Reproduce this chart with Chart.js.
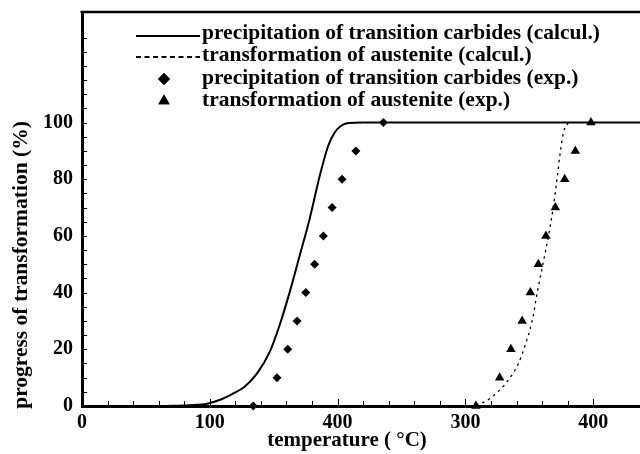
<!DOCTYPE html>
<html>
<head>
<meta charset="utf-8">
<script src="https://cdn.jsdelivr.net/npm/chart.js@4/dist/chart.umd.min.js"></script>
<style>
  html, body { margin: 0; padding: 0; background: #fff; overflow: hidden; }
  canvas { display: block; }
</style>
</head>
<body>
<canvas id="chart" width="646" height="454"></canvas>
<script>
// Calculated kinetics (temperature in °C, progress in %)
const calcCarbideTemps    = [63.6, 84, 97.8, 107.6, 117.4, 127.2, 137, 146.8, 154.6, 162.4, 170.3, 178.1, 185.9, 192.8, 197.7, 202.5, 208.4, 220, 437];
const calcCarbideProgress = [0, 0.3, 0.8, 2.1, 4.2, 6.8, 11.5, 19, 28.5, 40, 53, 66, 81, 92, 96.5, 98.8, 99.8, 100, 100];

const calcAusteniteTemps    = [303.3, 309.2, 317, 326.8, 333.7, 341.5, 346.4, 352.2, 356.2, 360.6, 365, 368.7, 371.6, 374.4, 376.7, 380.6];
const calcAusteniteProgress = [0, 0.5, 2, 5.6, 9.2, 15, 21, 30, 40, 50, 60, 70, 80, 90, 96.5, 100];

// Measured points
const expCarbideTemps    = [134, 152.6, 161, 168.3, 175.1, 182, 188.8, 195.7, 203.5, 214.3, 235.8];
const expCarbideProgress = [0, 10, 20, 30, 40, 50, 60, 70, 80, 90, 100];

const expAusteniteTemps    = [308.2, 326.8, 335.6, 344.4, 350.8, 357.1, 363, 370.4, 377.7, 386, 398.2];
const expAusteniteProgress = [0, 10, 20, 30, 40, 50, 60, 70, 80, 90, 100];

// Axis text
const xTickLabels = ['0', '100', '400', '300', '400'];
const yTickLabels = ['0', '20', '40', '60', '80', '100'];
const xTitle = 'temperature ( \u00B0C)';
const yTitle = 'progress of transformation (%)';

const seriesNames = [
  'precipitation of transition carbides (calcul.)',
  'transformation of austenite (calcul.)',
  'precipitation of transition carbides (exp.)',
  'transformation of austenite (exp.)'
];

const SERIF = '"Liberation Serif", "Times New Roman", serif';

const zip = (xs, ys) => xs.map((x, i) => ({ x: x, y: ys[i] }));

// Inward tick marks, top frame line and both axis titles
const framePlugin = {
  id: 'frame',
  afterDraw(chart) {
    const ctx = chart.ctx;
    const area = chart.chartArea;
    const xs = chart.scales.x;
    const ys = chart.scales.y;
    ctx.save();
    ctx.strokeStyle = '#000';
    ctx.fillStyle = '#000';

    // top frame
    ctx.lineWidth = 2.5;
    ctx.beginPath();
    ctx.moveTo(area.left - 1.5, area.top);
    ctx.lineTo(area.right, area.top);
    ctx.stroke();

    // inward ticks
    ctx.lineWidth = 1;
    xs.ticks.forEach(t => {
      const v = Math.round(t.value);
      if (v % 20 !== 0 || v <= 0) return;
      const px = Math.round(xs.getPixelForValue(v)) + 0.5;
      const len = v % 100 === 0 ? 7 : 5;
      ctx.beginPath();
      ctx.moveTo(px, area.bottom);
      ctx.lineTo(px, area.bottom - len);
      ctx.stroke();
    });
    ys.ticks.forEach(t => {
      const v = Math.round(t.value);
      if (v % 5 !== 0 || v <= 0 || v >= ys.max) return;
      const py = Math.round(ys.getPixelForValue(v)) + 0.5;
      ctx.beginPath();
      ctx.moveTo(area.left, py);
      ctx.lineTo(area.left + 5, py);
      ctx.stroke();
    });

    // axis titles
    ctx.textAlign = 'center';
    ctx.textBaseline = 'middle';
    ctx.font = 'bold 21px ' + SERIF;
    ctx.fillText(xTitle, 347, 441);

    ctx.font = 'bold 21.5px ' + SERIF;
    ctx.translate(21, 265);
    ctx.rotate(-Math.PI / 2);
    ctx.fillText(yTitle, 0, 0);
    ctx.restore();
  }
};

// Legend block inside the plot, styled from the datasets
const legendPlugin = {
  id: 'insideLegend',
  afterDraw(chart) {
    const ctx = chart.ctx;
    const ds = chart.data.datasets;
    const textX = 202;
    const baselines = [39, 61, 84, 106];
    ctx.save();
    ctx.fillStyle = '#000';
    ctx.strokeStyle = '#000';

    ctx.lineWidth = 2;
    ctx.beginPath();
    ctx.moveTo(136, 36);
    ctx.lineTo(200, 36);
    ctx.stroke();

    ctx.lineWidth = 2;
    ctx.setLineDash([5, 3.5]);
    ctx.beginPath();
    ctx.moveTo(136, 57);
    ctx.lineTo(200, 57);
    ctx.stroke();
    ctx.setLineDash([]);

    Chart.helpers.drawPoint(ctx, { pointStyle: ds[2].pointStyle, radius: 6, borderWidth: 0 }, 164, 79);
    ctx.fill();
    Chart.helpers.drawPoint(ctx, { pointStyle: ds[3].pointStyle, radius: 6.5, borderWidth: 0 }, 164, 101);
    ctx.fill();

    ctx.font = 'bold 21.5px ' + SERIF;
    ctx.textAlign = 'left';
    ctx.textBaseline = 'alphabetic';
    seriesNames.forEach((name, i) => ctx.fillText(name, textX, baselines[i]));
    ctx.restore();
  }
};

const tickFont = { family: SERIF, weight: 'bold', size: 20 };

const zeroPadding = (s) => {
  s.paddingLeft = 0; s.paddingRight = 0; s.paddingTop = 0; s.paddingBottom = 0;
};

new Chart(document.getElementById('chart'), {
  type: 'scatter',
  data: {
    datasets: [
      {
        label: seriesNames[0],
        data: zip(calcCarbideTemps, calcCarbideProgress),
        showLine: true,
        borderColor: '#000',
        borderWidth: 2,
        pointRadius: 0,
        cubicInterpolationMode: 'monotone',
        fill: false
      },
      {
        label: seriesNames[1],
        data: zip(calcAusteniteTemps, calcAusteniteProgress),
        showLine: true,
        borderColor: '#000',
        borderWidth: 1.3,
        borderDash: [2.5, 4],
        pointRadius: 0,
        cubicInterpolationMode: 'monotone',
        fill: false
      },
      {
        label: seriesNames[2],
        data: zip(expCarbideTemps, expCarbideProgress),
        showLine: false,
        pointStyle: 'rectRot',
        pointRadius: 4.5,
        pointBackgroundColor: '#000',
        pointBorderWidth: 0,
        clip: false
      },
      {
        label: seriesNames[3],
        data: zip(expAusteniteTemps, expAusteniteProgress),
        showLine: false,
        pointStyle: 'triangle',
        pointRadius: 5.5,
        pointBackgroundColor: '#000',
        pointBorderWidth: 0,
        clip: false
      }
    ]
  },
  options: {
    responsive: false,
    animation: false,
    devicePixelRatio: 1,
    layout: { padding: { top: 12, right: 0, left: 0, bottom: 0 } },
    plugins: {
      legend: { display: false },
      tooltip: { enabled: false }
    },
    scales: {
      x: {
        type: 'linear',
        min: 0,
        max: 437,
        border: { display: true, width: 3, color: '#000' },
        grid: { display: true, drawOnChartArea: false, drawTicks: false },
        ticks: {
          stepSize: 20,
          autoSkip: false,
          maxRotation: 0,
          padding: 5,
          color: '#000',
          font: tickFont,
          callback: (v) => {
            const r = Math.round(v);
            return r % 100 === 0 && xTickLabels[r / 100] !== undefined ? xTickLabels[r / 100] : '';
          }
        },
        afterFit: (s) => { s.height = 48; zeroPadding(s); }
      },
      y: {
        type: 'linear',
        min: 0,
        max: 139,
        border: { display: true, width: 3, color: '#000' },
        grid: { display: true, drawOnChartArea: false, drawTicks: false },
        ticks: {
          stepSize: 5,
          autoSkip: false,
          padding: 9,
          color: '#000',
          font: tickFont,
          callback: (v) => {
            const r = Math.round(v);
            return r % 20 === 0 && yTickLabels[r / 20] !== undefined ? yTickLabels[r / 20] : '';
          }
        },
        afterFit: (s) => { s.width = 82; zeroPadding(s); }
      }
    }
  },
  plugins: [framePlugin, legendPlugin]
});
</script>
</body>
</html>
